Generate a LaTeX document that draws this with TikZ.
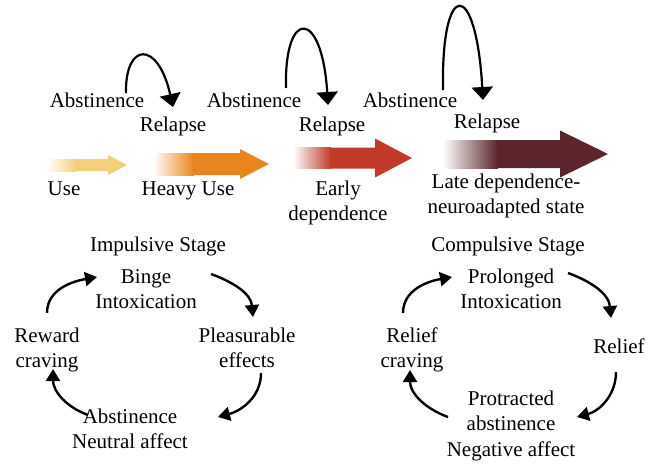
\documentclass[tikz,border=0pt]{standalone}
\usepackage{fontspec}
\setmainfont{Liberation Serif}
\usetikzlibrary{arrows.meta}
\definecolor{cuse}{HTML}{F4D07C}
\definecolor{cheavy}{HTML}{E8851F}
\definecolor{cearly}{HTML}{C23B2A}
\definecolor{clate}{HTML}{5B252B}
\newcommand\mlines[1]{\begin{tabular}[t]{@{}c@{}}#1\end{tabular}}
% color, xstart, xfade, xhead, xtip, ycenter, shaft half, head half
\newcommand\fadearrow[8]{%
  \shade[left color=white, right color=#1] ({#2},{#6-#7}) rectangle ({#3+0.8},{#6+#7});
  \fill[#1] ({#3},{#6-#7}) -- ({#4},{#6-#7}) -- ({#4},{#6-#8}) -- ({#5},{#6})
     -- ({#4},{#6+#8}) -- ({#4},{#6+#7}) -- ({#3},{#6+#7}) -- cycle;}
\begin{document}
\begin{tikzpicture}[x=1pt,y=1pt,
  lbl/.style={anchor=base, inner sep=0pt, font=\fontsize{21}{25.5}\selectfont},
  loopar/.style={line width=2.2pt, -{Triangle[width=21pt,length=13pt]}},
  cyc/.style={line width=2.4pt, -{Triangle[width=14pt,length=12pt]}}]
\fill[white, use as bounding box] (0,0) rectangle (656,-464);

% stage arrows
\fadearrow{cuse}{47}{75}{108}{127}{-165}{6}{10}
\fadearrow{cheavy}{153}{193}{240}{269}{-164}{11}{15}
\fadearrow{cearly}{293}{330}{375}{412}{-158}{10.5}{19.5}
\fadearrow{clate}{443}{497}{560}{608}{-154}{14}{23.5}

% top labels
\node[lbl] (abs1) at (97,-107) {Abstinence};
\node[lbl] (rel1) at (173,-131) {Relapse};
\node[lbl] (abs2) at (254,-107) {Abstinence};
\node[lbl] (rel2) at (332,-131) {Relapse};
\node[lbl] (abs3) at (410,-107) {Abstinence};
\node[lbl] (rel3) at (487,-128) {Relapse};

\node[lbl] (use) at (64,-195) {Use};
\node[lbl] (heavy) at (188,-195) {Heavy Use};
\node[lbl] (early) at (338,-195) {\mlines{Early\\dependence}};
\node[lbl] (late) at (506,-188) {\mlines{Late dependence-\\neuroadapted state}};

% relapse loops
\coordinate (l1s) at (126,-93);
\coordinate (l1e) at (173,-107);
\coordinate (l2s) at (286,-88);
\coordinate (l2e) at (328,-105);
\coordinate (l3s) at (443,-90);
\coordinate (l3e) at (483,-100);
\draw[loopar] (l1s) .. controls (125,-42) and (158,-40) .. (l1e);
\draw[loopar] (l2s) .. controls (284,-8) and (322,-8) .. (l2e);
\draw[loopar] (l3s) .. controls (441,22) and (476,22) .. (l3e);

% impulsive stage
\node[lbl] (imp) at (158,-251) {Impulsive Stage};
\node[lbl] (binge) at (146,-283) {\mlines{Binge\\Intoxication}};
\node[lbl] (reward) at (47,-342) {\mlines{Reward\\craving}};
\node[lbl] (pleas) at (247,-342) {\mlines{Pleasurable\\effects}};
\node[lbl] (absn) at (130,-423) {\mlines{Abstinence\\Neutral affect}};

\coordinate (a1s) at (47,-313);  \coordinate (a1e) at (97,-277);
\coordinate (a2s) at (211,-274); \coordinate (a2e) at (253,-317);
\coordinate (a3s) at (261,-373); \coordinate (a3e) at (218,-417);
\coordinate (a4s) at (88,-415);  \coordinate (a4e) at (53,-369);
\draw[cyc] (a1s) to[out=90,in=190] (a1e);
\draw[cyc] (a2s) to[out=-20,in=95] (a2e);
\draw[cyc] (a3s) to[out=-90,in=15] (a3e);
\draw[cyc] (a4s) to[out=160,in=-90] (a4e);

% compulsive stage
\node[lbl] (comp) at (508,-251) {Compulsive Stage};
\node[lbl] (prol) at (511,-283) {\mlines{Prolonged\\Intoxication}};
\node[lbl] (relc) at (412,-342) {\mlines{Relief\\craving}};
\node[lbl] (relief) at (619,-353) {Relief};
\node[lbl] (prot) at (511,-405) {\mlines{Protracted\\abstinence\\Negative affect}};

\coordinate (b1s) at (403,-313); \coordinate (b1e) at (452,-277);
\coordinate (b2s) at (568,-273); \coordinate (b2e) at (611,-318);
\coordinate (b3s) at (616,-372); \coordinate (b3e) at (577,-417);
\coordinate (b4s) at (448,-417); \coordinate (b4e) at (410,-370);
\draw[cyc] (b1s) to[out=90,in=190] (b1e);
\draw[cyc] (b2s) to[out=-20,in=95] (b2e);
\draw[cyc] (b3s) to[out=-90,in=15] (b3e);
\draw[cyc] (b4s) to[out=160,in=-90] (b4e);
\end{tikzpicture}
\end{document}
